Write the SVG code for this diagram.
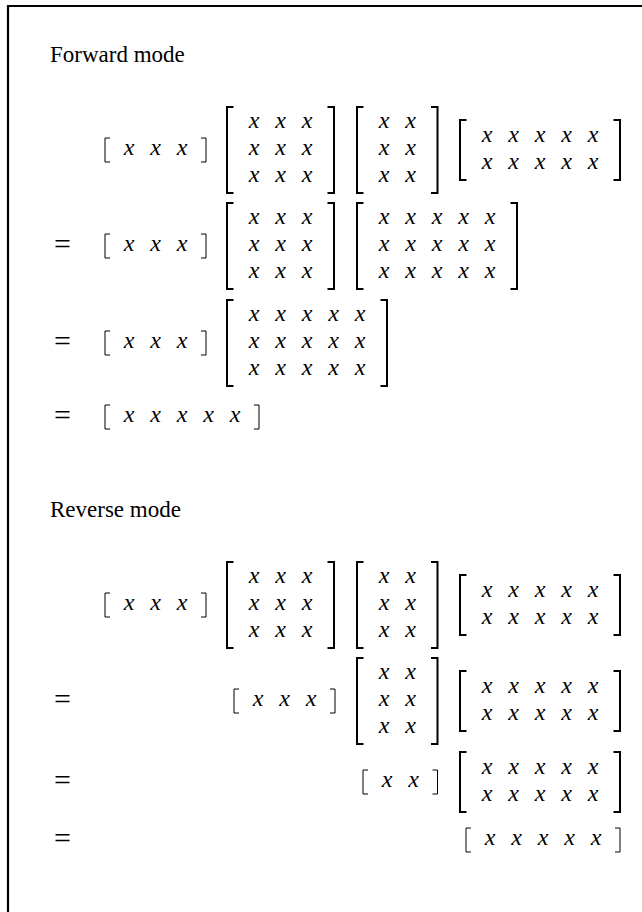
<svg xmlns="http://www.w3.org/2000/svg" width="642" height="912" viewBox="0 0 642 912">
<style>
.h{font-family:"Liberation Serif","Times New Roman",serif;font-size:23px;fill:#000}
.x{font-family:"Liberation Serif","Times New Roman",serif;font-style:italic;font-size:24px;fill:#000;text-anchor:middle}
.eq{font-family:"Liberation Serif","Times New Roman",serif;font-size:30px;fill:#000;text-anchor:middle}
.bb{fill:none;stroke:#000;stroke-width:2}
.sb{fill:none;stroke:#000;stroke-width:1}
</style>
<rect width="642" height="912" fill="#fff"/>
<path d="M8 912 V6 H642" fill="none" stroke="#000" stroke-width="2.2"/>

<g id="forward">
<text class="h" x="50" y="62">Forward mode</text>
<g id="f1">
 <g id="f1-v"><path class="sb" d="M110 138 H105 V162 H110 M201 138 H206 V162 H201"/><text class="x" x="129 155.5 182" y="155">xxx</text></g>
 <g id="f1-m1"><path class="bb" d="M233.5 107 H227 V193 H233.5 M327.5 107 H334 V193 H327.5"/><text class="x" x="254 280.5 307" y="128">xxx</text><text class="x" x="254 280.5 307" y="155">xxx</text><text class="x" x="254 280.5 307" y="182">xxx</text></g>
 <g id="f1-m2"><path class="bb" d="M363.5 107 H357 V193 H363.5 M431 107 H437.5 V193 H431"/><text class="x" x="384 410.5" y="128">xx</text><text class="x" x="384 410.5" y="155">xx</text><text class="x" x="384 410.5" y="182">xx</text></g>
 <g id="f1-m3"><path class="bb" d="M466.5 120 H460 V180 H466.5 M613.5 120 H620 V180 H613.5"/><text class="x" x="487 513.5 540 566.5 593" y="141.5">xxxxx</text><text class="x" x="487 513.5 540 566.5 593" y="168.5">xxxxx</text></g>
</g>
<g id="f2">
 <text class="eq" x="62.5" y="254">=</text>
 <g id="f2-v"><path class="sb" d="M110 234 H105 V258 H110 M201 234 H206 V258 H201"/><text class="x" x="129 155.5 182" y="251">xxx</text></g>
 <g id="f2-m1"><path class="bb" d="M233.5 203 H227 V289 H233.5 M327.5 203 H334 V289 H327.5"/><text class="x" x="254 280.5 307" y="224">xxx</text><text class="x" x="254 280.5 307" y="251">xxx</text><text class="x" x="254 280.5 307" y="278">xxx</text></g>
 <g id="f2-m2"><path class="bb" d="M363.5 203 H357 V289 H363.5 M510.5 203 H517 V289 H510.5"/><text class="x" x="384 410.5 437 463.5 490" y="224">xxxxx</text><text class="x" x="384 410.5 437 463.5 490" y="251">xxxxx</text><text class="x" x="384 410.5 437 463.5 490" y="278">xxxxx</text></g>
</g>
<g id="f3">
 <text class="eq" x="62.5" y="351">=</text>
 <g id="f3-v"><path class="sb" d="M110 331 H105 V355 H110 M201 331 H206 V355 H201"/><text class="x" x="129 155.5 182" y="348">xxx</text></g>
 <g id="f3-m1"><path class="bb" d="M233.5 300 H227 V386 H233.5 M380.5 300 H387 V386 H380.5"/><text class="x" x="254 280.5 307 333.5 360" y="321">xxxxx</text><text class="x" x="254 280.5 307 333.5 360" y="348">xxxxx</text><text class="x" x="254 280.5 307 333.5 360" y="375">xxxxx</text></g>
</g>
<g id="f4">
 <text class="eq" x="62.5" y="425">=</text>
 <g id="f4-v"><path class="sb" d="M110 405 H105 V429 H110 M254 405 H259 V429 H254"/><text class="x" x="129 155.5 182 208.5 235" y="422">xxxxx</text></g>
</g>
</g>

<g id="reverse">
<text class="h" x="50" y="517">Reverse mode</text>
<g id="r1">
 <g id="r1-v"><path class="sb" d="M110 593 H105 V617 H110 M201 593 H206 V617 H201"/><text class="x" x="129 155.5 182" y="610">xxx</text></g>
 <g id="r1-m1"><path class="bb" d="M233.5 562 H227 V648 H233.5 M327.5 562 H334 V648 H327.5"/><text class="x" x="254 280.5 307" y="583">xxx</text><text class="x" x="254 280.5 307" y="610">xxx</text><text class="x" x="254 280.5 307" y="637">xxx</text></g>
 <g id="r1-m2"><path class="bb" d="M363.5 562 H357 V648 H363.5 M431 562 H437.5 V648 H431"/><text class="x" x="384 410.5" y="583">xx</text><text class="x" x="384 410.5" y="610">xx</text><text class="x" x="384 410.5" y="637">xx</text></g>
 <g id="r1-m3"><path class="bb" d="M466.5 575 H460 V635 H466.5 M613.5 575 H620 V635 H613.5"/><text class="x" x="487 513.5 540 566.5 593" y="596.5">xxxxx</text><text class="x" x="487 513.5 540 566.5 593" y="623.5">xxxxx</text></g>
</g>
<g id="r2">
 <text class="eq" x="62.5" y="709">=</text>
 <g id="r2-v"><path class="sb" d="M239 689 H234 V713 H239 M330 689 H335 V713 H330"/><text class="x" x="258 284.5 311" y="706">xxx</text></g>
 <g id="r2-m1"><path class="bb" d="M363.5 658 H357 V744 H363.5 M431 658 H437.5 V744 H431"/><text class="x" x="384 410.5" y="679">xx</text><text class="x" x="384 410.5" y="706">xx</text><text class="x" x="384 410.5" y="733">xx</text></g>
 <g id="r2-m2"><path class="bb" d="M466.5 671 H460 V731 H466.5 M613.5 671 H620 V731 H613.5"/><text class="x" x="487 513.5 540 566.5 593" y="692.5">xxxxx</text><text class="x" x="487 513.5 540 566.5 593" y="719.5">xxxxx</text></g>
</g>
<g id="r3">
 <text class="eq" x="62.5" y="790">=</text>
 <g id="r3-v"><path class="sb" d="M368 770 H363 V794 H368 M432.5 770 H437.5 V794 H432.5"/><text class="x" x="387 413.5" y="787">xx</text></g>
 <g id="r3-m1"><path class="bb" d="M466.5 752 H460 V812 H466.5 M613.5 752 H620 V812 H613.5"/><text class="x" x="487 513.5 540 566.5 593" y="773.5">xxxxx</text><text class="x" x="487 513.5 540 566.5 593" y="800.5">xxxxx</text></g>
</g>
<g id="r4">
 <text class="eq" x="62.5" y="848">=</text>
 <g id="r4-v"><path class="sb" d="M471 828 H466 V852 H471 M615 828 H620 V852 H615"/><text class="x" x="490 516.5 543 569.5 596" y="845">xxxxx</text></g>
</g>
</g>
<g id="connectors"/>
</svg>
